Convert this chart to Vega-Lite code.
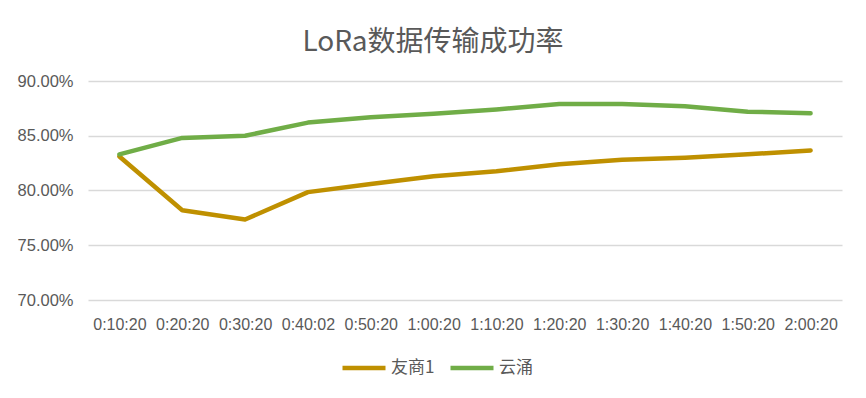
{
  "$schema": "https://vega.github.io/schema/vega-lite/v6.json",
  "width": 754,
  "height": 219,
  "autosize": {"type": "none"},
  "padding": {"left": 88, "top": 81, "right": 24, "bottom": 98},
  "background": "white",
  "title": {
    "text": "LoRa数据传输成功率",
    "font": "Noto Sans CJK SC",
    "fontSize": 28,
    "fontWeight": "normal",
    "color": "#595959",
    "anchor": "middle",
    "dx": -32,
    "offset": 16
  },
  "data": {
    "values": [
      {"time": "0:10:20", "series": "友商1", "value": 0.831},
      {"time": "0:20:20", "series": "友商1", "value": 0.782},
      {"time": "0:30:20", "series": "友商1", "value": 0.7735},
      {"time": "0:40:02", "series": "友商1", "value": 0.7985},
      {"time": "0:50:20", "series": "友商1", "value": 0.806},
      {"time": "1:00:20", "series": "友商1", "value": 0.813},
      {"time": "1:10:20", "series": "友商1", "value": 0.8175},
      {"time": "1:20:20", "series": "友商1", "value": 0.824},
      {"time": "1:30:20", "series": "友商1", "value": 0.828},
      {"time": "1:40:20", "series": "友商1", "value": 0.830},
      {"time": "1:50:20", "series": "友商1", "value": 0.833},
      {"time": "2:00:20", "series": "友商1", "value": 0.8366},
      {"time": "0:10:20", "series": "云涌", "value": 0.833},
      {"time": "0:20:20", "series": "云涌", "value": 0.848},
      {"time": "0:30:20", "series": "云涌", "value": 0.850},
      {"time": "0:40:02", "series": "云涌", "value": 0.862},
      {"time": "0:50:20", "series": "云涌", "value": 0.867},
      {"time": "1:00:20", "series": "云涌", "value": 0.870},
      {"time": "1:10:20", "series": "云涌", "value": 0.874},
      {"time": "1:20:20", "series": "云涌", "value": 0.879},
      {"time": "1:30:20", "series": "云涌", "value": 0.879},
      {"time": "1:40:20", "series": "云涌", "value": 0.877},
      {"time": "1:50:20", "series": "云涌", "value": 0.872},
      {"time": "2:00:20", "series": "云涌", "value": 0.8706}
    ]
  },
  "mark": {"type": "line", "strokeWidth": 4.5, "strokeCap": "round", "strokeJoin": "round"},
  "encoding": {
    "x": {
      "field": "time",
      "type": "nominal",
      "sort": null,
      "scale": {"type": "point", "padding": 0.5},
      "axis": {
        "title": null,
        "labelAngle": 0,
        "labelFont": "Liberation Sans",
        "labelFontSize": 16,
        "labelColor": "#595959",
        "labelPadding": 16,
        "labelOverlap": false,
        "ticks": false,
        "domain": false,
        "grid": false
      }
    },
    "y": {
      "field": "value",
      "type": "quantitative",
      "scale": {"domain": [0.7, 0.9], "nice": false, "zero": false},
      "axis": {
        "title": null,
        "format": ".2%",
        "values": [0.7, 0.75, 0.8, 0.85, 0.9],
        "labelFont": "Liberation Sans",
        "labelFontSize": 16.5,
        "labelColor": "#595959",
        "labelPadding": 15,
        "ticks": false,
        "domain": false,
        "grid": true,
        "gridColor": "#D9D9D9",
        "gridWidth": 1.3
      }
    },
    "color": {
      "field": "series",
      "type": "nominal",
      "sort": ["友商1", "云涌"],
      "scale": {"domain": ["友商1", "云涌"], "range": ["#BF9000", "#70AD47"]},
      "legend": {
        "title": null,
        "orient": "none",
        "direction": "horizontal",
        "legendX": 252,
        "legendY": 263,
        "symbolType": "stroke",
        "symbolSize": 1849,
        "symbolStrokeWidth": 4.5,
        "labelFont": "Noto Sans CJK SC",
        "labelFontSize": 17,
        "labelColor": "#595959",
        "labelOffset": 3,
        "columnPadding": 6
      }
    }
  },
  "config": {
    "view": {"stroke": null}
  }
}
